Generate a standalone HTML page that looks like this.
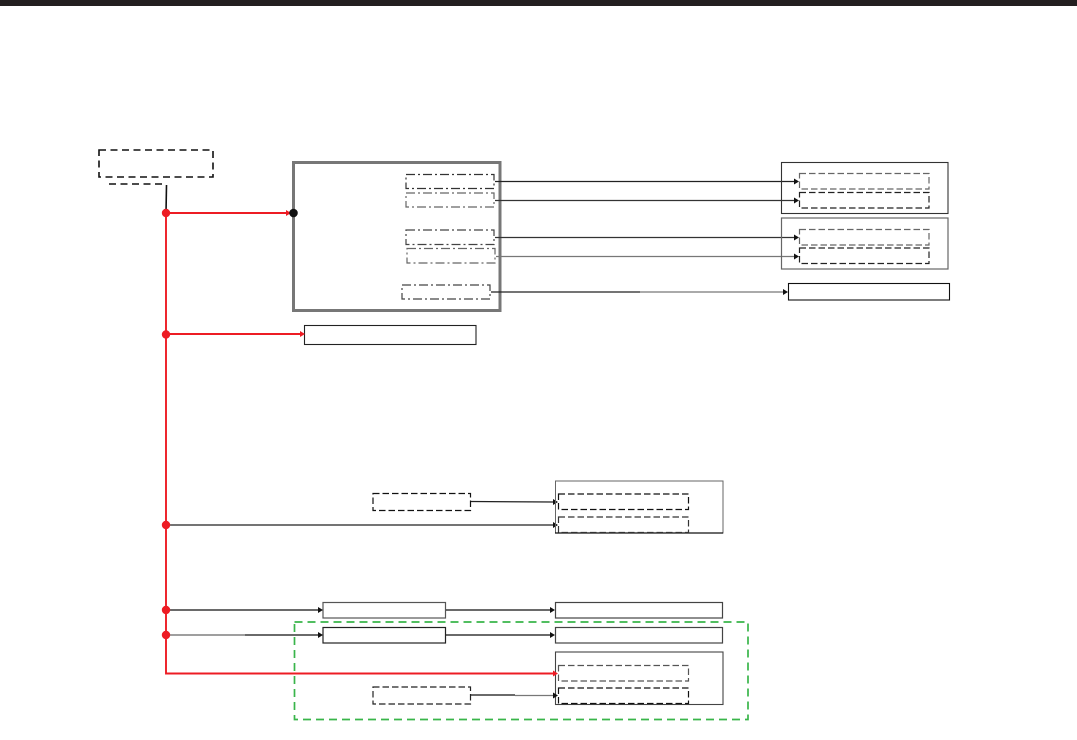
<!DOCTYPE html>
<html>
<head>
<meta charset="utf-8">
<style>
html,body{margin:0;padding:0;background:#fff;width:1077px;height:740px;overflow:hidden}
svg{display:block}
</style>
</head>
<body>
<svg width="1077" height="740" viewBox="0 0 1077 740" xmlns="http://www.w3.org/2000/svg" fill="none">
<rect x="0" y="0" width="1077" height="6" fill="#231f20"/>

<!-- top-left dashed -->
<rect x="99" y="150" width="114" height="27" stroke="#111" stroke-width="1.6" stroke-dasharray="7 4.5"/>
<line x1="109" y1="184" x2="165" y2="184" stroke="#111" stroke-width="1.6" stroke-dasharray="7 4.5"/>
<line x1="166.500" y1="185" x2="166" y2="213" stroke="#111" stroke-width="1.6"/>

<!-- big box -->
<rect x="293.500" y="162.500" width="206.500" height="148" stroke="#777" stroke-width="3"/>
<g stroke-width="1.2" stroke-dasharray="9 3 2 3">
<rect x="406" y="174.500" width="88" height="14" stroke="#333"/>
<rect x="406" y="193" width="88" height="14" stroke="#666"/>
<rect x="406" y="230" width="88" height="14.500" stroke="#444"/>
<rect x="407" y="248.500" width="88" height="14.500" stroke="#666"/>
<rect x="402" y="285" width="88" height="14" stroke="#444"/>
</g>

<!-- connectors top right -->
<g stroke-width="1.300">
<line x1="495" y1="181.500" x2="795" y2="181.500" stroke="#222"/>
<line x1="495" y1="200.500" x2="795" y2="200.500" stroke="#333"/>
<line x1="495" y1="237.500" x2="795" y2="237.500" stroke="#333"/>
<line x1="496" y1="256.500" x2="795" y2="256.500" stroke="#777"/>
<line x1="491" y1="292" x2="640" y2="292" stroke="#222"/>
<line x1="640" y1="292" x2="784" y2="292" stroke="#777"/>
</g>
<g fill="#111">
<path d="M794 178.500l5 3l-5 3z"/>
<path d="M794 197.500l5 3l-5 3z"/>
<path d="M794 234.500l5 3l-5 3z"/>
<path d="M794 253.500l5 3l-5 3z"/>
<path d="M783 289l5 3l-5 3z"/>
</g>

<!-- right boxes -->
<rect x="781.500" y="162.500" width="166.500" height="51" stroke="#333" stroke-width="1.100"/>
<rect x="781.500" y="218" width="166.500" height="51" stroke="#666" stroke-width="1.200"/>
<g stroke-width="1.200" stroke-dasharray="6.500 3">
<rect x="799.500" y="173.500" width="129.500" height="15.500" stroke="#666"/>
<rect x="799.500" y="192.500" width="129.500" height="15.500" stroke="#222"/>
<rect x="799.500" y="229.500" width="129.500" height="15.500" stroke="#666"/>
<rect x="799.500" y="248" width="129.500" height="15.500" stroke="#222"/>
</g>
<rect x="788.500" y="283.500" width="161" height="16.500" stroke="#111" stroke-width="1.100"/>

<!-- middle box connected to trunk -->
<rect x="304.500" y="325.500" width="171.500" height="19" stroke="#222" stroke-width="1.100"/>
<rect x="373" y="493.500" width="97.500" height="17" stroke="#111" stroke-width="1.200" stroke-dasharray="6.500 3"/>
<line x1="471" y1="501.500" x2="553" y2="502" stroke="#222" stroke-width="1.300"/>
<path d="M553 499l5 3l-5 3z" fill="#111"/>
<line x1="170" y1="525" x2="553" y2="525" stroke="#222" stroke-width="1.300"/>
<path d="M553 522l5 3l-5 3z" fill="#111"/>
<rect x="555.500" y="481" width="167.500" height="52" stroke="#666" stroke-width="1"/>
<line x1="555" y1="533" x2="723" y2="533" stroke="#111" stroke-width="1.200"/>
<rect x="558.500" y="494" width="130" height="15.500" stroke="#111" stroke-width="1.200" stroke-dasharray="6.500 3"/>
<rect x="558.500" y="517" width="130" height="15.500" stroke="#333" stroke-width="1.200" stroke-dasharray="6.500 3"/>

<!-- bottom rows -->
<rect x="323" y="602.500" width="122.500" height="15.500" stroke="#555" stroke-width="1.200"/>
<rect x="323" y="627.500" width="122.500" height="15.500" stroke="#222" stroke-width="1.200"/>
<line x1="170" y1="610" x2="319" y2="610" stroke="#111" stroke-width="1.300"/>
<line x1="170" y1="635" x2="245" y2="635" stroke="#666" stroke-width="1.300"/>
<line x1="245" y1="635" x2="319" y2="635" stroke="#111" stroke-width="1.300"/>
<path d="M318 607l5 3l-5 3z" fill="#111"/>
<path d="M318 632l5 3l-5 3z" fill="#111"/>
<line x1="446" y1="610" x2="551" y2="610" stroke="#111" stroke-width="1.300"/>
<line x1="446" y1="635" x2="551" y2="635" stroke="#111" stroke-width="1.300"/>
<path d="M550 607l5 3l-5 3z" fill="#111"/>
<path d="M550 632l5 3l-5 3z" fill="#111"/>
<rect x="555.500" y="602.500" width="167" height="15.500" stroke="#444" stroke-width="1.200"/>
<rect x="555.500" y="627.500" width="167" height="15.500" stroke="#444" stroke-width="1.200"/>
<rect x="555.500" y="652" width="167.500" height="52.500" stroke="#444" stroke-width="1.100"/>
<rect x="558.500" y="665.500" width="130" height="15.500" stroke="#555" stroke-width="1.200" stroke-dasharray="6.500 3"/>
<rect x="558.500" y="688" width="130" height="15.500" stroke="#111" stroke-width="1.200" stroke-dasharray="6.500 3"/>
<rect x="373" y="687" width="97.500" height="17" stroke="#222" stroke-width="1.200" stroke-dasharray="6.500 3"/>
<line x1="471" y1="695" x2="515" y2="695" stroke="#111" stroke-width="1.300"/>
<line x1="515" y1="695.500" x2="553" y2="695.500" stroke="#777" stroke-width="1.300"/>
<path d="M553 692.500l5 3l-5 3z" fill="#111"/>

<!-- green dashed -->
<rect x="294.500" y="622" width="453.500" height="97.500" stroke="#39b54a" stroke-width="1.700" stroke-dasharray="8 5"/>

<!-- red trunk -->
<path d="M166 213V673.500H553" stroke="#ed1c24" stroke-width="1.900"/>
<line x1="166" y1="213" x2="288" y2="213" stroke="#ed1c24" stroke-width="1.900"/>
<line x1="166" y1="334" x2="300" y2="334" stroke="#ed1c24" stroke-width="1.900"/>
<path d="M286 210l5 3l-5 3z" fill="#ed1c24"/>
<path d="M300 331l5 3l-5 3z" fill="#ed1c24"/>
<path d="M553 670.500l5 3l-5 3z" fill="#ed1c24"/>

<!-- dots -->
<g fill="#ed1c24">
<circle cx="166" cy="213" r="4.200"/>
<circle cx="166" cy="334.500" r="4.200"/>
<circle cx="166" cy="525" r="4.200"/>
<circle cx="166" cy="610" r="4.200"/>
<circle cx="166" cy="635" r="4.200"/>
</g>
<circle cx="293.500" cy="213" r="4.300" fill="#111"/>
</svg>
</body>
</html>
